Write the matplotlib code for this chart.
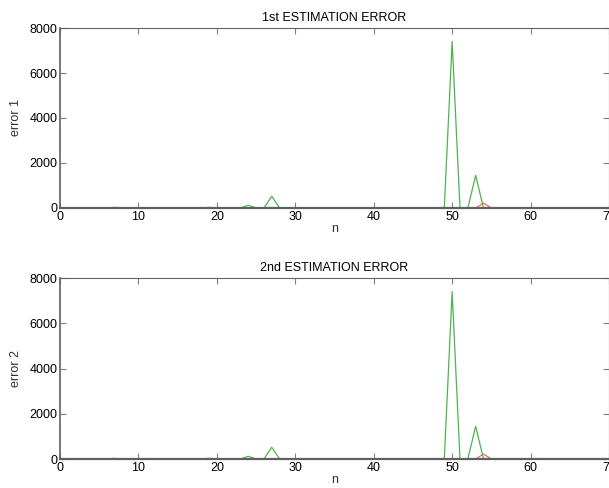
import numpy as np
import matplotlib.pyplot as plt

plt.rcParams['font.family'] = ['Liberation Sans', 'DejaVu Sans']

n = np.arange(0, 71)

# non-zero samples (same in both panels)
green_n = [19, 24, 27, 50, 53]
green_v1 = [30, 120, 520, 7400, 1450]
green_v2 = [30, 120, 520, 7400, 1450]
red_n = [54]
red_v1 = [220]
red_v2 = [220]
magenta_n = [7]
magenta_v1 = [30]
magenta_v2 = [30]

titles = ['1st ESTIMATION ERROR', '2nd ESTIMATION ERROR']
ylabels = ['error 1', 'error 2']
xticks = [0, 10, 20, 30, 40, 50, 60, 70]
yticks = [0, 2000, 4000, 6000, 8000]


def series(idx, vals):
    y = np.zeros(len(n))
    for i, v in zip(idx, vals):
        y[i] = v
    return y


fig = plt.figure(figsize=(6.09, 4.88), dpi=100)
positions = [[0.0985, 0.5738, 0.9015, 0.3688], [0.0985, 0.0594, 0.9015, 0.3709]]
data = [(green_v1, red_v1, magenta_v1), (green_v2, red_v2, magenta_v2)]

for k in range(2):
    ax = fig.add_axes(positions[k])
    g, r, m = data[k]
    ax.plot(n, series(magenta_n, m), color='#e050e0', lw=0.9)
    ax.plot(n, series(red_n, r), color='#ff6060', lw=0.9)
    ax.plot(n, series(green_n, g), color='#4cb44c', lw=0.9)
    ax.set_xlim(0, 70)
    ax.set_ylim(0, 8000)
    ax.set_xticks(xticks)
    ax.set_yticks(yticks)
    ax.tick_params(direction='in', length=4, labelsize=9, top=True, right=True,
                   color='#808080', pad=2)
    for s in ax.spines.values():
        s.set_color('#606060')
    ax.spines['bottom'].set_linewidth(1.6)
    ax.spines['left'].set_linewidth(1.2)
    ax.set_title(titles[k], fontsize=9, pad=5)
    ax.set_xlabel('n', fontsize=9, labelpad=0, color='#303030')
    ax.set_ylabel(ylabels[k], fontsize=9, labelpad=5, color='#303030')

fig.savefig('out.png', dpi=100)
